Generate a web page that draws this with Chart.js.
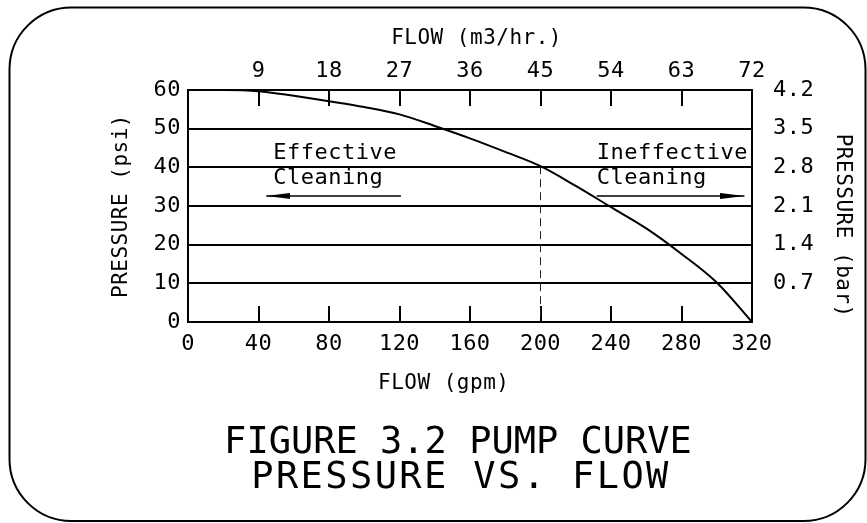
<!DOCTYPE html>
<html lang="en">
<head>
<meta charset="UTF-8">
<title>Pump curve</title>
<style>
  html, body { margin: 0; padding: 0; background: #fff; }
  canvas { display: block; }
</style>
</head>
<body>
<canvas id="pumpChart" width="867" height="523"></canvas>
<script src="https://cdn.jsdelivr.net/npm/chart.js@4"></script>
<script>
// pump curve
const flowGpm     = [0, 20, 40, 60, 80, 100, 120, 140, 160, 180, 200, 220, 240, 260, 280, 300, 320];
const pressurePsi = [60, 60, 59.7, 58.5, 57.1, 55.6, 53.7, 50.7, 47.5, 44.0, 40.3, 35.2, 29.7, 24.2, 17.6, 10.2, 0];

// tick labels
const gpmTicks = [0, 40, 80, 120, 160, 200, 240, 280, 320];
const m3hTicks = [9, 18, 27, 36, 45, 54, 63, 72];
const psiTicks = [0, 10, 20, 30, 40, 50, 60];
const barTicks = [0.7, 1.4, 2.1, 2.8, 3.5, 4.2];

// dashed marker at the split between the two zones
const markerGpm = 200;

// zone notes (gpm, psi) and their arrows
const noteLabels = ['Effective', 'Cleaning', 'Ineffective', 'Cleaning'];
const noteGpm = [48.4, 48.4, 231.9, 231.9];
const notePsi = [43.7, 37.2, 43.7, 37.2];
const effArrowGpm = [120.8, 44.4];
const ineffArrowGpm = [231.9, 315.7];
const arrowPsi = 32.6;

const captionLines = ['FIGURE 3.2 PUMP CURVE', 'PRESSURE VS. FLOW'];

const FONT = "'DejaVu Sans Mono', monospace";
Chart.defaults.font.family = FONT;
Chart.defaults.font.size = 22;
Chart.defaults.color = '#000';

// arrow head used as point style, tip sits on the canvas centre
const arrowHead = document.createElement('canvas');
arrowHead.width = 48;
arrowHead.height = 8;
const ah = arrowHead.getContext('2d');
ah.fillStyle = '#000';
ah.beginPath();
ah.moveTo(24, 4);
ah.lineTo(0, 1);
ah.lineTo(0, 7);
ah.closePath();
ah.fill();

const curve = flowGpm.map((g, i) => ({ x: g, y: pressurePsi[i] }));
const markerTop = pressurePsi[flowGpm.indexOf(markerGpm)];

const frameAndNotes = {
    id: 'frameAndNotes',
    beforeDraw(chart) {
        chart.ctx.letterSpacing = '0.5px';
    },
    afterDraw(chart) {
        const { ctx, scales: { x, y } } = chart;
        ctx.save();
        ctx.strokeStyle = '#000';
        ctx.lineWidth = 2;
        ctx.beginPath();
        ctx.roundRect(9.5, 7.5, 856, 513.5, 62);
        ctx.stroke();

        ctx.fillStyle = '#000';
        ctx.textBaseline = 'middle';
        ctx.textAlign = 'left';
        ctx.font = '22px ' + FONT;
        noteLabels.forEach((t, i) => {
            ctx.fillText(t, x.getPixelForValue(noteGpm[i]), y.getPixelForValue(notePsi[i]));
        });

        ctx.textAlign = 'center';
        ctx.font = '37px ' + FONT;
        ctx.letterSpacing = '0px';
        ctx.fillText(captionLines[0], 458, 443);
        ctx.letterSpacing = '2.4px';
        ctx.fillText(captionLines[1], 461, 478);
        ctx.restore();
    }
};

const blackGrid = { color: '#000', lineWidth: 2 };
const titleFont = { size: 21 };

new Chart(document.getElementById('pumpChart'), {
    type: 'line',
    data: {
        datasets: [{
            data: curve,
            borderColor: '#000',
            borderWidth: 2,
            pointRadius: 0,
            cubicInterpolationMode: 'monotone'
        }, {
            data: [{ x: markerGpm, y: markerTop }, { x: markerGpm, y: 0 }],
            borderColor: '#222',
            borderWidth: 1,
            borderDash: [8, 5],
            pointRadius: 0
        }, {
            data: effArrowGpm.map(g => ({ x: g, y: arrowPsi })),
            borderColor: '#000',
            borderWidth: 1.5,
            pointRadius: [0, 5],
            pointStyle: arrowHead,
            pointRotation: 180
        }, {
            data: ineffArrowGpm.map(g => ({ x: g, y: arrowPsi })),
            borderColor: '#000',
            borderWidth: 1.5,
            pointRadius: [0, 5],
            pointStyle: arrowHead,
            pointRotation: 0
        }]
    },
    options: {
        responsive: false,
        animation: false,
        events: [],
        layout: { padding: 0 },
        plugins: {
            legend: { display: false },
            tooltip: { enabled: false }
        },
        scales: {
            x: {
                type: 'linear',
                position: 'bottom',
                min: 0,
                max: 320,
                afterBuildTicks: s => { s.ticks = gpmTicks.map(v => ({ value: v })); },
                ticks: { autoSkip: false, maxRotation: 0, padding: 25 },
                grid: { ...blackGrid, drawOnChartArea: false, tickLength: -16 },
                border: { color: '#000', width: 2 },
                title: { display: true, text: 'FLOW (gpm)    ', font: titleFont, padding: { bottom: 127 } },
                afterFit: s => { s.height = 201; }
            },
            xTop: {
                type: 'linear',
                axis: 'x',
                position: 'top',
                min: 0,
                max: 72,
                afterBuildTicks: s => { s.ticks = m3hTicks.map(v => ({ value: v })); },
                ticks: { autoSkip: false, maxRotation: 0, padding: 22 },
                grid: { ...blackGrid, drawOnChartArea: false, tickLength: -16 },
                border: { color: '#000', width: 2 },
                title: { display: true, text: ' FLOW (m3/hr.)', font: titleFont, padding: { top: 26 } },
                afterFit: s => { s.height = 90; }
            },
            y: {
                type: 'linear',
                position: 'left',
                min: 0,
                max: 60,
                afterBuildTicks: s => { s.ticks = psiTicks.map(v => ({ value: v })); },
                ticks: { padding: 7 },
                grid: { ...blackGrid, drawTicks: false },
                border: { color: '#000', width: 2 },
                title: { display: true, text: 'PRESSURE (psi)', font: titleFont, padding: { top: 109 } },
                afterFit: s => { s.width = 188; }
            },
            yBar: {
                type: 'linear',
                axis: 'y',
                position: 'right',
                min: 0,
                max: 4.2,
                afterBuildTicks: s => { s.ticks = barTicks.map(v => ({ value: v })); },
                ticks: { padding: 21, callback: v => v.toFixed(1) },
                grid: { ...blackGrid, drawOnChartArea: false, drawTicks: false },
                border: { color: '#000', width: 2 },
                title: { display: true, text: '   PRESSURE (bar)', font: titleFont, padding: { top: 12 } },
                afterFit: s => { s.width = 115; }
            }
        }
    },
    plugins: [frameAndNotes]
});
</script>
</body>
</html>
